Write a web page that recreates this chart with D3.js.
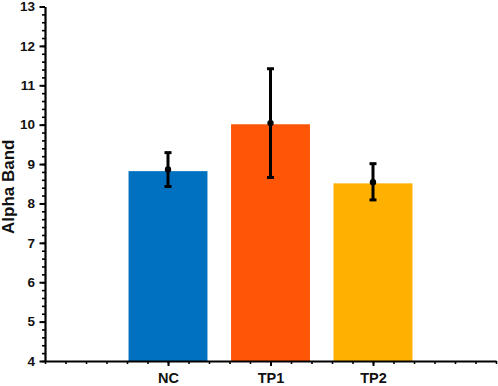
<!DOCTYPE html>
<html>
<head>
<meta charset="utf-8">
<script src="https://cdn.jsdelivr.net/npm/d3@7"></script>
<style>
  body { margin: 0; background: #fff; }
  text { font-family: "Liberation Sans", Arial, sans-serif; }
</style>
</head>
<body>
<div id="chart"></div>
<script>
// Data
const groups = ["NC", "TP1", "TP2"];
const means = [8.82, 10.01, 8.51];
const dots = [8.86, 10.04, 8.54];
const errLow = [8.43, 8.66, 8.09];
const errHigh = [9.29, 11.42, 9.01];
const colors = ["#0070C0", "#FF5506", "#FFB000"];
const yMajorTicks = [4, 5, 6, 7, 8, 9, 10, 11, 12, 13];

const W = 498, H = 386;
const margin = { top: 6.5, right: 2, bottom: 25, left: 45 };
const width = W - margin.left - margin.right;
const height = H - margin.top - margin.bottom;

const svg = d3.select("#chart").append("svg")
    .attr("width", W).attr("height", H)
    .append("g")
    .attr("transform", `translate(${margin.left},${margin.top})`);

// categories sit at 1, 2, 3 on a linear scale
const x = d3.scaleLinear().domain([-0.2, 4.2]).range([0, width]);
const y = d3.scaleLinear().domain([4, 13]).range([height, 0]);

const barW = 0.77;

// bars
svg.selectAll(".bar")
    .data(groups)
    .enter().append("rect")
    .attr("class", "bar")
    .attr("x", (d, i) => x(i + 1 - barW / 2))
    .attr("y", (d, i) => y(means[i]))
    .attr("width", x(barW) - x(0))
    .attr("height", (d, i) => height - y(means[i]))
    .attr("fill", (d, i) => colors[i]);

// error bars
const eb = svg.selectAll(".err").data(groups).enter().append("g").attr("class", "err");
eb.append("line")
    .attr("x1", (d, i) => x(i + 1)).attr("x2", (d, i) => x(i + 1))
    .attr("y1", (d, i) => y(errLow[i])).attr("y2", (d, i) => y(errHigh[i]))
    .attr("stroke", "#000").attr("stroke-width", 3);
[errLow, errHigh].forEach(arr => {
    eb.append("line")
        .attr("x1", (d, i) => x(i + 1) - 3.5).attr("x2", (d, i) => x(i + 1) + 3.5)
        .attr("y1", (d, i) => y(arr[i])).attr("y2", (d, i) => y(arr[i]))
        .attr("stroke", "#000").attr("stroke-width", 3);
});
eb.append("circle")
    .attr("cx", (d, i) => x(i + 1))
    .attr("cy", (d, i) => y(dots[i]))
    .attr("r", 3.2)
    .attr("fill", "#000");

// y axis: minor ticks then major ticks with labels
const yMinor = d3.range(4, 13.001, 0.2).map(v => +v.toFixed(1));
svg.append("g")
    .call(d3.axisLeft(y).tickValues(yMinor).tickSize(3).tickFormat(""))
    .call(g => g.select(".domain").remove())
    .selectAll("line").attr("stroke-width", 1.6);
const yAx = svg.append("g")
    .call(d3.axisLeft(y).tickValues(yMajorTicks).tickSize(5.5).tickPadding(4.5).tickSizeOuter(0));
yAx.select(".domain").attr("stroke-width", 2.2);
yAx.selectAll(".tick line").attr("stroke-width", 2);
yAx.selectAll("text")
    .style("font-size", "13.5px")
    .style("font-weight", "bold")
    .attr("fill", "#111");

// x axis
const xMinor = d3.range(-0.2, 4.2001, 0.2).map(v => +v.toFixed(1));
svg.append("g")
    .attr("transform", `translate(0,${height})`)
    .call(d3.axisBottom(x).tickValues(xMinor).tickSize(3).tickFormat(""))
    .call(g => g.select(".domain").remove())
    .selectAll("line").attr("stroke-width", 1.6);
const xAx = svg.append("g")
    .attr("transform", `translate(0,${height})`)
    .call(d3.axisBottom(x).tickValues([1, 2, 3]).tickSize(5).tickPadding(7).tickSizeOuter(0)
        .tickFormat(d => groups[d - 1]));
xAx.select(".domain").attr("stroke-width", 2.2);
xAx.selectAll(".tick line").attr("stroke-width", 2);
xAx.selectAll("text")
    .style("font-size", "14.5px")
    .style("font-weight", "bold")
    .attr("fill", "#111");

// y label
svg.append("text")
    .attr("text-anchor", "middle")
    .attr("transform", `translate(${-margin.left + 14}, ${height / 2 + 3}) rotate(-90)`)
    .style("font-size", "17px")
    .style("font-weight", "bold")
    .attr("fill", "#111")
    .text("Alpha Band");
</script>
</body>
</html>
